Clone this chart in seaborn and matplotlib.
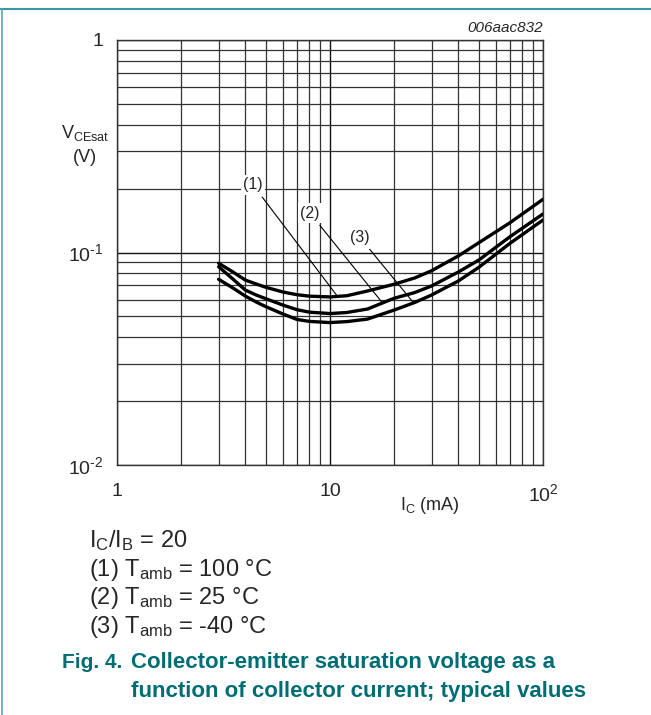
import numpy as np
import pandas as pd
import matplotlib
matplotlib.use("Agg")
import matplotlib.pyplot as plt
import seaborn as sns
from matplotlib.lines import Line2D
from matplotlib.ticker import FixedLocator, FixedFormatter, LogLocator, NullFormatter

# Data
ic_ma = [3, 3.5, 4, 4.5, 5, 6, 7, 8, 10, 12, 15, 20, 25, 30, 40, 50, 70, 100]
vce_100c = [0.089, 0.081, 0.0742, 0.0711, 0.0686, 0.0652, 0.0633, 0.0623, 0.0618,
            0.0626, 0.0659, 0.0709, 0.0759, 0.0821, 0.0963, 0.1112, 0.1381, 0.178]
vce_25c = [0.0857, 0.075, 0.0666, 0.0631, 0.0606, 0.0566, 0.0538, 0.0524, 0.0516,
           0.0522, 0.0542, 0.0609, 0.0648, 0.0696, 0.0809, 0.0922, 0.1187, 0.1518]
vce_m40c = [0.0748, 0.0681, 0.0624, 0.0585, 0.0556, 0.0514, 0.0484, 0.0474, 0.0468,
            0.0473, 0.0486, 0.0536, 0.0582, 0.0631, 0.0734, 0.0852, 0.1105, 0.1422]

x_ticks = [1, 10, 100]
x_tick_labels = ["1", "10", r"$10^{2}$"]
y_ticks = [0.01, 0.1, 1]
y_tick_labels = [r"$10^{\text{-2}}$", r"$10^{\text{-1}}$", "1"]

# (label, x of pointer end, y of pointer end, text x, text y)
callouts = [("(1)", 10.8, 0.0625, 4.35, 0.208),
            ("(2)", 17.5, 0.0585, 8.06, 0.153),
            ("(3)", 24.5, 0.0585, 13.8, 0.118)]

sns.set_style("white")
plt.rcParams["font.family"] = ["Liberation Sans", "DejaVu Sans"]
plt.rcParams["mathtext.fontset"] = "custom"
plt.rcParams["mathtext.rm"] = "Liberation Sans"
plt.rcParams["mathtext.it"] = "Liberation Sans:italic"
plt.rcParams["mathtext.default"] = "regular"

fig = plt.figure(figsize=(6.51, 7.15), dpi=100)
ax = fig.add_axes([117 / 651, 1 - 465 / 715, 426 / 651, 425 / 715])

for v in [vce_100c, vce_25c, vce_m40c]:
    df = pd.DataFrame({"ic": ic_ma, "v": v})
    sns.lineplot(data=df, x="ic", y="v", ax=ax, color="black", lw=2.4, zorder=3)

ax.set_xscale("log")
ax.set_yscale("log")
ax.set_xlim(1, 100)
ax.set_ylim(0.01, 1)

ax.xaxis.set_major_locator(FixedLocator(x_ticks))
ax.xaxis.set_major_formatter(FixedFormatter(x_tick_labels))
ax.yaxis.set_major_locator(FixedLocator(y_ticks))
ax.yaxis.set_major_formatter(FixedFormatter(y_tick_labels))
ax.xaxis.set_minor_locator(LogLocator(base=10, subs=np.arange(2, 10)))
ax.yaxis.set_minor_locator(LogLocator(base=10, subs=np.arange(2, 10)))
ax.xaxis.set_minor_formatter(NullFormatter())
ax.yaxis.set_minor_formatter(NullFormatter())

ax.grid(True, which="major", color="#111111", lw=1.0)
ax.grid(True, which="minor", color="#333333", lw=0.9)
ax.tick_params(axis="both", which="both", length=0, labelsize=14)
ax.tick_params(axis="y", pad=10)
ax.tick_params(axis="x", pad=13)
for s in ax.spines.values():
    s.set_color("#333333")
    s.set_linewidth(1.0)
ax.set_xlabel("")
ax.set_ylabel("")

for lab, xp, yp, xt, yt in callouts:
    ax.annotate(lab, xy=(xp, yp), xytext=(xt, yt), fontsize=11.5,
                ha="center", va="center", zorder=4,
                bbox=dict(boxstyle="square,pad=0.15", fc="white", ec="none"),
                arrowprops=dict(arrowstyle="-", color="black", lw=0.8,
                                shrinkA=2, shrinkB=0))

# axis labels and code
fig.text(85 / 651, 1 - 133 / 715, r"V$_{CEsat}$", ha="center", va="center", fontsize=13)
fig.text(85 / 651, 1 - 157 / 715, "(V)", ha="center", va="center", fontsize=13)
fig.text(430 / 651, 1 - 505 / 715, r"I$_{C}$ (mA)", ha="center", va="center", fontsize=13)
fig.text(543 / 651, 1 - 28 / 715, "006aac832", ha="right", va="center",
         fontsize=11, style="italic")

# conditions
cond = [r"I$_{C}$/I$_{B}$ = 20",
        r"(1) T$_{amb}$ = 100 °C",
        r"(2) T$_{amb}$ = 25 °C",
        r"(3) T$_{amb}$ = -40 °C"]
for i, t in enumerate(cond):
    fig.text(89 / 651, 1 - (547 + 28.7 * i) / 715, t, ha="left", va="baseline", fontsize=17)

teal = "#006d75"
fig.text(62 / 651, 1 - 668 / 715, "Fig. 4.", ha="left", va="baseline",
         fontsize=15, fontweight="bold", color=teal)
fig.text(131 / 651, 1 - 668 / 715, "Collector-emitter saturation voltage as a",
         ha="left", va="baseline", fontsize=16, fontweight="bold", color=teal)
fig.text(131 / 651, 1 - 697 / 715, "function of collector current; typical values",
         ha="left", va="baseline", fontsize=16, fontweight="bold", color=teal)

# frame lines
fig.add_artist(Line2D([0, 1], [1 - 9 / 715, 1 - 9 / 715], color="#3b97a0", lw=1.5,
                      transform=fig.transFigure))
fig.add_artist(Line2D([1.5 / 651, 1.5 / 651], [0, 1 - 9 / 715], color="#5aa7b0", lw=1.2,
                      transform=fig.transFigure))

fig.savefig("out.png", dpi=100)
